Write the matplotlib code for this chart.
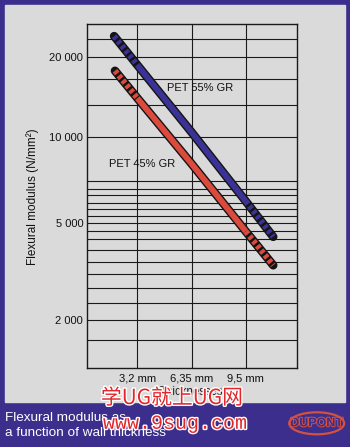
import numpy as np
import matplotlib.pyplot as plt
import matplotlib.patheffects as pe
from matplotlib.patches import Rectangle, Ellipse

# wall thickness (mm) and flexural modulus (N/mm2) along each curve
thickness_55 = [1.85, 3.2, 6.35, 9.5, 11.1]
modulus_55 = [23900, 18600, 10400, 5970, 4400]
thickness_45 = [1.9, 3.2, 6.35, 9.5, 11.1]
modulus_45 = [17700, 13970, 8055, 4634, 3360]

x_ticks = [3.2, 6.35, 9.5]
x_labels = ["3,2 mm", "6,35 mm", "9,5 mm"]
y_ticks = [2000, 5000, 10000, 20000]
y_labels = ["2 000", "5 000", "10 000", "20 000"]
y_grid = [1650, 2350, 2700, 3100, 3450, 3900, 4300, 4650,
          5300, 5600, 5900, 6250, 6600, 7000, 13200, 16500, 23300]

# printed log paper is not evenly spaced per decade: piecewise log scale
scale_log = [3.0, 3.301, 3.699, 4.0, 4.301, 4.602]
scale_pos = [393.1, 320.0, 223.3, 136.7, 56.7, -23.3]


def fwd(v):
    return -np.interp(np.log10(np.clip(v, 1, None)), scale_log, scale_pos)


def inv(u):
    return 10 ** np.interp(-np.asarray(u), scale_pos[::-1], scale_log[::-1])


plt.rcParams['font.family'] = ['Liberation Sans', 'DejaVu Sans']
plt.rcParams['lines.scale_dashes'] = False

purple = '#3b2e8c'
panel = '#dadada'
blue = '#3b3296'
red = '#dc4a3e'

W, H = 350, 447
fig = plt.figure(figsize=(W / 100, H / 100), dpi=100, facecolor=purple)
fig.patches.append(Rectangle((5 / W, 1 - 401.7 / H), 340 / W, 396.7 / H,
                             transform=fig.transFigure, color=panel, zorder=-5))

ax = fig.add_axes([87.3 / W, 1 - 368.3 / H, 210 / W, 344.3 / H], zorder=1)
ax.set_facecolor(panel)
ax.set_yscale('function', functions=(fwd, inv))
ax.set_xlim(0.29, 12.5)
ax.set_ylim(1265, 26550)

ax.set_xticks(x_ticks, x_labels)
ax.set_yticks(y_ticks, y_labels)
ax.set_yticks(y_grid, minor=True)
ax.yaxis.set_minor_formatter(plt.NullFormatter())
ax.tick_params(which='both', length=0, labelsize=8, pad=3, colors='#111111')
ax.tick_params(axis='x', pad=4)
ax.grid(True, which='both', axis='y', color='#1a1a1a', lw=0.8)
ax.grid(True, which='major', axis='x', color='#1a1a1a', lw=0.8)
ax.set_axisbelow(True)
for s in ax.spines.values():
    s.set_linewidth(1.0)
    s.set_color('#1a1a1a')

for x, y, c in [(thickness_55, modulus_55, blue), (thickness_45, modulus_45, red)]:
    ax.plot(x, y, color='#141414', lw=6.2, solid_capstyle='round', zorder=3)
    # solid inside the tested range, striped where extrapolated
    ax.plot(x[1:4], y[1:4], color=c, lw=4.2, solid_capstyle='butt', zorder=4)
    ax.plot(x[:2], y[:2], color=c, lw=4.2, dashes=(2.6, 1.8),
            dash_capstyle='butt', zorder=4)
    ax.plot(x[3:], y[3:], color=c, lw=4.2, dashes=(2.6, 1.8),
            dash_capstyle='butt', zorder=4)

ax.text(0.539, 0.814, "PET 55% GR", transform=ax.transAxes, fontsize=8,
        ha='center', va='center', color='#111111')
ax.text(0.263, 0.593, "PET 45% GR", transform=ax.transAxes, fontsize=8,
        ha='center', va='center', color='#111111')

fig.text(33 / W, 1 - 196.7 / H, "Flexural modulus (N/mm²)", rotation=90,
         ha='center', va='center', fontsize=8.5, color='#111111')
fig.text(191.7 / W, 1 - 391.7 / H, "Thicknesses", ha='center', va='center',
         fontsize=8.3, color='#222222')

fig.text(5 / W, 1 - 417.7 / H, "Flexural modulus as", ha='left', va='center',
         fontsize=9.7, color='white')
fig.text(5 / W, 1 - 432.7 / H, "a function of wall thickness", ha='left',
         va='center', fontsize=9.7, color='white')

# DuPont oval
fig.patches.append(Ellipse((316.7 / W, 1 - 423.3 / H), 55 / W, 22 / H,
                           transform=fig.transFigure, fill=False,
                           edgecolor='#d4503f', lw=1.6, zorder=5))
fig.text(316.7 / W, 1 - 423.3 / H, "DUPONT", ha='center', va='center',
         fontsize=9, fontweight='bold', color=purple,
         path_effects=[pe.withStroke(linewidth=1.4, foreground='#d4503f')])

# site watermark
wm = [pe.withStroke(linewidth=2.0, foreground='white')]
fig.text(172 / W, 1 - 398 / H, "学UG就上UG网", ha='center', va='center',
         fontsize=15, color='#e3262b', family=['Noto Sans CJK SC', 'DejaVu Sans'],
         path_effects=wm, zorder=10)
fig.text(175 / W, 1 - 423.3 / H, "www.9sug.com", ha='center', va='center',
         fontsize=14.4, color='#e3262b', family=['Liberation Mono'],
         path_effects=wm, zorder=10)

fig.savefig('out.png', dpi=100, facecolor=purple)
